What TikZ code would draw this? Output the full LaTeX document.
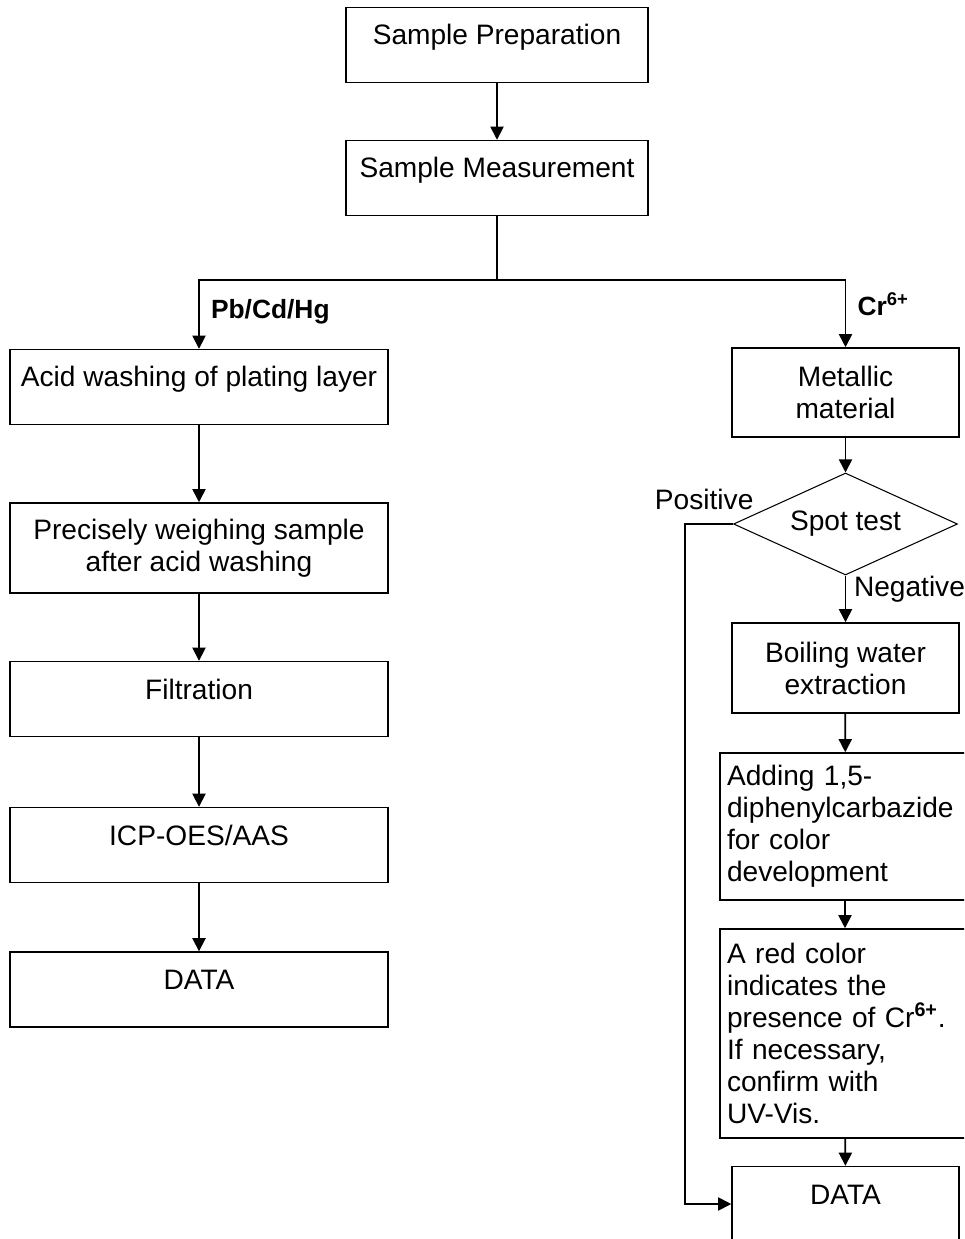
\documentclass[tikz,border=0pt]{standalone}
\usepackage{fontspec}
\setmainfont{Liberation Sans}
\usetikzlibrary{shapes.geometric, positioning, arrows.meta}

\tikzset{
	box/.style={draw, rectangle, line width=0.9pt, align=center, inner xsep=0pt},
	onebox/.style={box, text height=21.3pt, text depth=21.3pt, inner ysep=0pt},
	notebox/.style={box, align=left, text width=4.72cm, inner xsep=0.14cm, minimum width=5cm},
	flow/.style={line width=1pt, -{Triangle[length=7.5pt, width=7.5pt]}},
	branch/.style={font=\fontsize{15pt}{18pt}\selectfont\bfseries}
}

\begin{document}
\begin{tikzpicture}[x=0.02cm, y=-0.02cm, font=\fontsize{16pt}{18.2pt}\selectfont]
					\clip (0,0) rectangle (964,1239);

					\node[onebox, minimum width=6.04cm] (prep) at (497,45) {Sample Preparation};
					\node[onebox, minimum width=6.04cm] (meas) at (497,178) {Sample Measurement};
					\coordinate (split) at (497,280);

					\node[onebox, minimum width=7.56cm] (acid) at (199,387) {Acid washing of plating layer};
					\node[box, minimum width=7.56cm, minimum height=1.8cm] (weigh) at (199,548) {Precisely weighing sample\\after acid washing};
					\node[onebox, minimum width=7.56cm] (filt) at (199,699) {Filtration};
					\node[onebox, minimum width=7.56cm] (icp) at (199,845) {ICP-OES/AAS};
					\node[onebox, minimum width=7.56cm] (data) at (199,989.5) {DATA};

					\node[box, minimum width=4.54cm, minimum height=1.78cm] (metal) at (845.5,392.5) {Metallic\\material};
					\node[diamond,
						draw,
						line width=0.6pt,
						shape aspect=2.2,
						minimum width=4.48cm,
						minimum height=2.04cm,
						inner sep=0pt
					] (spot) at (845.5,524) {Spot test};
					\coordinate (bend) at (685,524);
					\node[box, minimum width=4.54cm, minimum height=1.8cm] (boil) at (845.5,668) {Boiling water\\extraction};
					\node[notebox, minimum height=2.94cm] (add) at (845,826.5) {Adding 1,5-\\diphenylcarbazide\\for color\\development};
					\node[notebox, minimum height=4.18cm] (red) at (845,1033.5) {A red color\\indicates the\\presence of Cr\textsuperscript{\textbf{6+}}.\\If necessary,\\confirm with\\UV-Vis.};
					\node[onebox, minimum width=4.54cm] (data2) at (845.5,1204) {DATA};

					\draw[flow] (prep) -- (meas);
					\draw[line width=1pt] (meas) -- (split);
					\draw[flow] (split) -| node[branch, pos=0.73, right=3pt] {Pb/Cd/Hg} (acid);
					\draw[flow] (split) -| node[branch, pos=0.68, right=3pt] {Cr\textsuperscript{6+}} (metal);

					\draw[flow] (acid) -- (weigh);
					\draw[flow] (weigh) -- (filt);
					\draw[flow] (filt) -- (icp);
					\draw[flow] (icp) -- (data);

					\draw[flow] (metal) -- (spot);
					\draw[flow] (spot) -- node[pos=0.3, right=1pt] {Negative} (boil);
					\draw[flow] (spot.west) -- node[pos=0.6, above=4pt] {Positive} (bend) |- (data2.west);
					\draw[flow] (boil) -- (add);
					\draw[flow] (add) -- (red);
					\draw[flow] (red) -- (data2);
				\end{tikzpicture}
\end{document}
